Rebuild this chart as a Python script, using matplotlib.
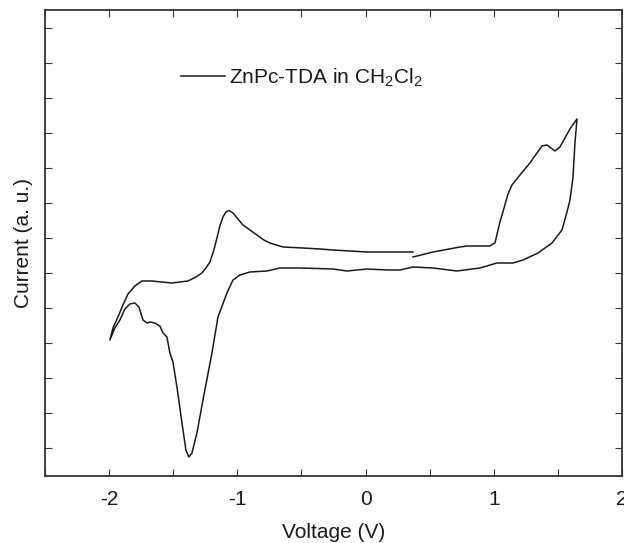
import matplotlib
matplotlib.use("Agg")
import matplotlib.pyplot as plt
from matplotlib.ticker import MultipleLocator, NullFormatter

plt.rcParams['font.family'] = ['Liberation Sans', 'DejaVu Sans']
plt.rcParams['mathtext.fontset'] = 'custom'
plt.rcParams['mathtext.rm'] = 'Liberation Sans'
plt.rcParams['mathtext.default'] = 'regular'

# Cyclic voltammogram, ordered along the scan (V, arbitrary current units)
voltage = [0.370, 0.526, 0.736, 0.791, 0.970, 1.009, 1.048, 1.080, 1.111, 1.142,
           1.204, 1.282, 1.337, 1.376, 1.415, 1.446, 1.477, 1.516, 1.555, 1.594,
           1.649,
           1.633, 1.618, 1.594, 1.571, 1.532, 1.454, 1.345, 1.228, 1.150, 1.025,
           0.892, 0.713, 0.526, 0.370, 0.268, 0.167, 0.011, -0.145, -0.254, -0.512,
           -0.668, -0.769, -0.902, -0.980, -1.034, -1.081, -1.151, -1.198, -1.268, -1.315,
           -1.354, -1.378, -1.401, -1.424, -1.471, -1.502, -1.526, -1.549, -1.580, -1.604,
           -1.643, -1.682, -1.705, -1.736, -1.768, -1.799, -1.838, -1.877, -1.916, -1.955,
           -1.994,
           -1.970, -1.931, -1.892, -1.853, -1.799, -1.744, -1.666, -1.510, -1.385, -1.323,
           -1.276, -1.245, -1.214, -1.183, -1.159, -1.136, -1.112, -1.089, -1.066, -1.034,
           -0.995, -0.956, -0.902, -0.847, -0.793, -0.746, -0.644, -0.488, -0.356, -0.254,
           0.011, 0.370]
current = [5.457, 5.600, 5.743, 5.771, 5.771, 5.857, 6.457, 6.857, 7.257, 7.514,
           7.800, 8.143, 8.429, 8.629, 8.657, 8.571, 8.486, 8.600, 8.857, 9.114,
           9.400,
           8.714, 7.743, 7.086, 6.743, 6.229, 5.857, 5.571, 5.371, 5.286, 5.286,
           5.143, 5.057, 5.143, 5.171, 5.086, 5.086, 5.114, 5.057, 5.114, 5.143,
           5.143, 5.057, 5.029, 4.943, 4.800, 4.429, 3.743, 2.714, 1.371, 0.429,
           -0.143, -0.257, -0.057, 0.514, 1.743, 2.457, 2.714, 3.171, 3.286, 3.486,
           3.571, 3.600, 3.571, 3.657, 4.029, 4.143, 4.114, 3.971, 3.657, 3.429,
           3.086,
           3.429, 3.743, 4.086, 4.400, 4.629, 4.771, 4.771, 4.714, 4.771, 4.886,
           5.000, 5.143, 5.314, 5.657, 6.000, 6.343, 6.600, 6.743, 6.786, 6.714,
           6.543, 6.371, 6.229, 6.086, 5.943, 5.857, 5.743, 5.714, 5.686, 5.657,
           5.600, 5.600]

series_label = r'ZnPc-TDA in CH$_2$Cl$_2$'
x_ticks = [-2, -1, 0, 1, 2]
x_tick_labels = ['-2', '-1', '0', '1', '2']

fig = plt.figure(figsize=(6.24, 5.43), dpi=100)
ax = fig.add_axes([45/624, 67/543, 577/624, 466/543])

ax.plot(voltage, current, color='#1a1a1a', lw=1.1, label=series_label)

ax.set_xlim(-2.5, 2.0)
ax.set_ylim(-0.8, 12.514)
ax.set_xticks(x_ticks)
ax.set_xticklabels(x_tick_labels)
ax.xaxis.set_minor_locator(MultipleLocator(0.5))
ax.yaxis.set_major_locator(MultipleLocator(1))
ax.yaxis.set_major_formatter(NullFormatter())

ax.tick_params(axis='both', which='both', direction='in', top=True, right=True,
               width=0.8, color='#333333')
ax.tick_params(axis='both', which='major', length=5)
ax.tick_params(axis='both', which='minor', length=5)
ax.tick_params(axis='x', which='major', labelsize=15, pad=10, labelcolor='#1a1a1a')

for s in ax.spines.values():
    s.set_linewidth(1.3)
    s.set_color('#333333')

ax.set_xlabel('Voltage (V)', fontsize=15, color='#1a1a1a', labelpad=10)
ax.set_ylabel('Current (a. u.)', fontsize=15, color='#1a1a1a', labelpad=5)

leg = ax.legend(loc='center left', bbox_to_anchor=(0.236, 0.855), frameon=False,
                fontsize=15, borderpad=0, borderaxespad=0, handlelength=2.1,
                handletextpad=0.2)
for t in leg.get_texts():
    t.set_color('#1a1a1a')

fig.savefig('out.png', dpi=100)
